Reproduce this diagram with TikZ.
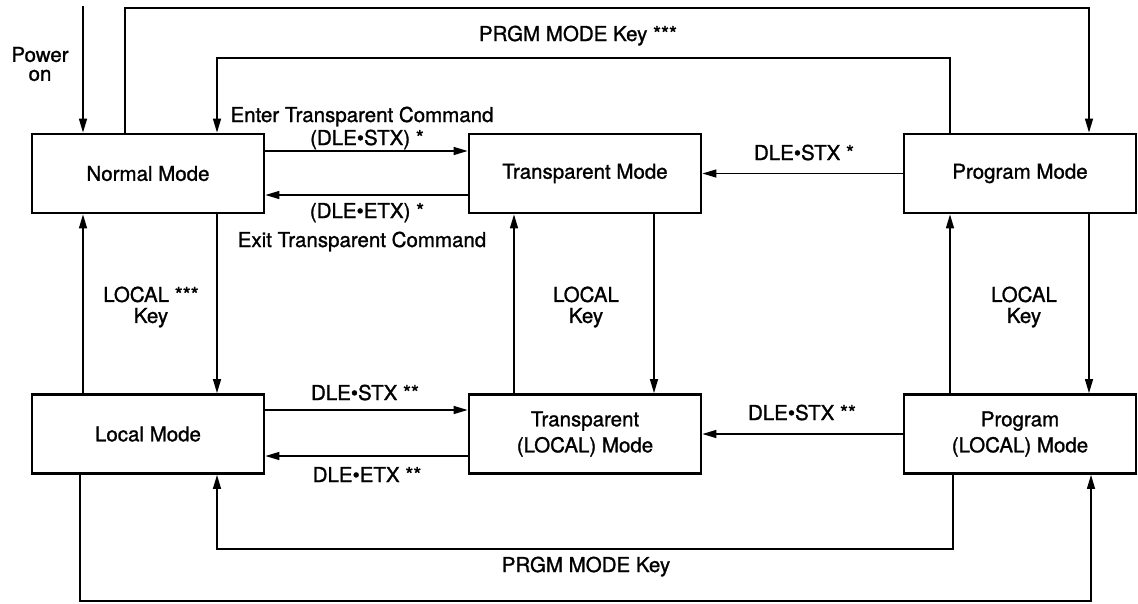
\documentclass[tikz,border=0pt]{standalone}
\usepackage{fontspec}
\setmainfont{TeX Gyre Heros}[RawFeature={embolden=1.2}]
\usetikzlibrary{arrows.meta}

\begin{document}
\begin{tikzpicture}[x=1pt,y=-1pt,
    font=\fontsize{20.5}{22}\selectfont,
    mode/.style={draw,line width=2.8pt,minimum width=232pt,minimum height=79pt,
      inner sep=0pt,align=center,font=\fontsize{20.5}{26}\selectfont},
    wire/.style={line width=1.4pt},
    arr/.style={wire,-{Triangle[length=14pt,width=8pt]}},
    lbl/.style={anchor=base,inner sep=0pt},
    duo/.style={align=center,inner sep=0pt,font=\fontsize{20.5}{21}\selectfont}]

    \useasboundingbox (0,0) rectangle (1138,603);

    % modes
    \node[mode] (normal) at (148,173.5)  {Normal Mode};
    \node[mode] (trans)  at (585,173.5)  {Transparent Mode};
    \node[mode] (prog)   at (1020,173.5) {Program Mode};
    \node[mode] (local)  at (148,434)    {Local Mode};
    \node[mode] (transl) at (585,434)    {Transparent\\(LOCAL) Mode};
    \node[mode] (progl)  at (1020,434)   {Program\\(LOCAL) Mode};

    % power on
    \coordinate (pwr) at (83,6);
    \draw[arr] (pwr) -- (pwr |- normal.north);
    \node[duo,font=\fontsize{20.5}{19}\selectfont] (pwrlbl) at (40,64) {Power\\on};

    % loops over the top
    \coordinate (otop) at (600,8);
    \draw[arr] ([xshift=-23pt]normal.north) |- (otop) -| ([xshift=69pt]prog.north);
    \coordinate (itop) at (578,58);
    \draw[arr] ([xshift=-70pt]prog.north) |- (itop) -| ([xshift=69pt]normal.north);
    \node[lbl] (itoplbl) at (578,41) {PRGM MODE Key ***};

    % top row
    \draw[arr] ([yshift=22.5pt]normal.east) -- ([yshift=22.5pt]trans.west);
    \node[lbl] (entlbl) at (362,122) {Enter Transparent Command};
    \node[lbl] (stxa) at (367,145) {(DLE\textbullet STX) *};
    \draw[arr] ([yshift=-21.5pt]trans.west) -- ([yshift=-21.5pt]normal.east);
    \node[lbl] (etxa) at (367,218) {(DLE\textbullet ETX) *};
    \node[lbl] (exlbl) at (362,247) {Exit Transparent Command};
    \draw[arr] (prog.west) -- (trans.east);
    \node[lbl] (stxb) at (804,160) {DLE\textbullet STX *};

    % columns
    \draw[arr] ([xshift=69pt]normal.south) -- ([xshift=69pt]local.north);
    \draw[arr] ([xshift=-65pt]local.north) -- ([xshift=-65pt]normal.south);
    \node[duo] (loclbla) at (151,307) {LOCAL ***\\Key};
    \draw[arr] ([xshift=-71pt]transl.north) -- ([xshift=-71pt]trans.south);
    \draw[arr] ([xshift=69pt]trans.south) -- ([xshift=69pt]transl.north);
    \node[duo] (loclblb) at (586,307) {LOCAL\\Key};
    \draw[arr] ([xshift=-70pt]progl.north) -- ([xshift=-70pt]prog.south);
    \draw[arr] ([xshift=69pt]prog.south) -- ([xshift=69pt]progl.north);
    \node[duo] (loclblc) at (1024,307) {LOCAL\\Key};

    % bottom row
    \draw[arr] ([yshift=24pt]local.east) -- ([yshift=24pt]transl.west);
    \node[lbl] (stxc) at (365,400) {DLE\textbullet STX **};
    \draw[arr] ([yshift=-22pt]transl.west) -- ([yshift=-22pt]local.east);
    \node[lbl] (etxb) at (367,482) {DLE\textbullet ETX **};
    \draw[arr] (progl.west) -- (transl.east);
    \node[lbl] (stxd) at (802,420) {DLE\textbullet STX **};

    % loops under the bottom
    \coordinate (ibot) at (585,549);
    \draw[arr] ([xshift=-67pt]progl.south) |- (ibot) -| ([xshift=69pt]local.south);
    \node[lbl] (ibotlbl) at (586,572) {PRGM MODE Key};
    \coordinate (obot) at (585,601);
    \draw[arr] ([xshift=-68pt]local.south) |- (obot) -| ([xshift=71pt]progl.south);
\end{tikzpicture}
\end{document}
